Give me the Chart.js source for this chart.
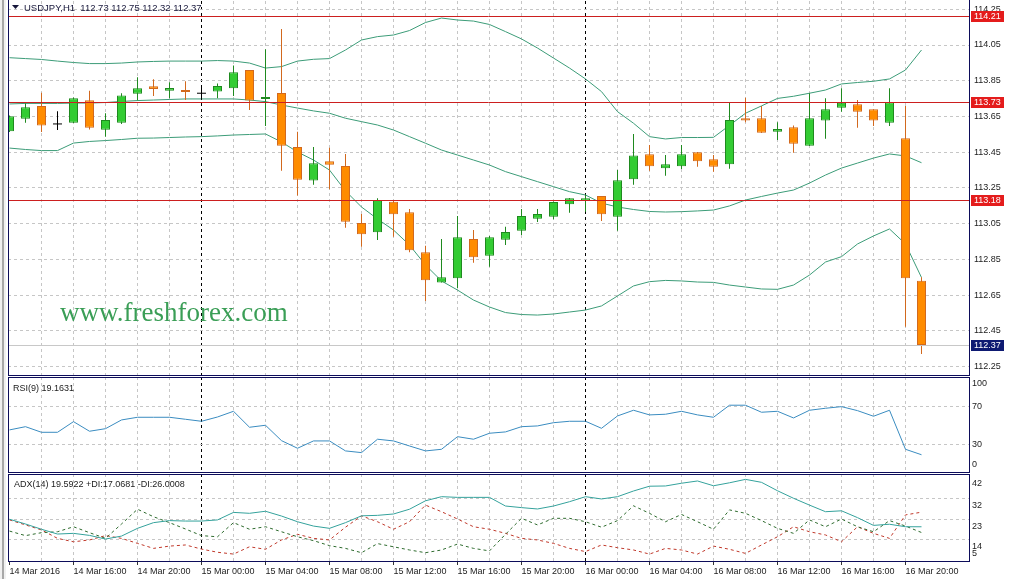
<!DOCTYPE html>
<html lang="en">
<head>
<meta charset="UTF-8">
<title>USDJPY H1</title>
<script src="https://cdn.jsdelivr.net/npm/chart.js@4.4.1/dist/chart.umd.min.js"></script>
<style>
  html, body { margin: 0; padding: 0; background: #fff; }
  #wrap { position: relative; width: 1011px; height: 579px; overflow: hidden; background: #fff; }
  #wrap canvas { position: absolute; left: 0; }
  #edge { position: absolute; left: 0; top: 0; width: 6px; height: 579px; background: #f0f0f0; }
  #edge i { position: absolute; left: 2px; top: 0; width: 2px; height: 579px; background: #a8a8a8; }
</style>
</head>
<body>
<div id="wrap">
  <div id="edge"><i></i></div>
  <canvas id="cMain" width="1011" height="376" style="top:0"></canvas>
  <canvas id="cRsi" width="1011" height="97" style="top:376px"></canvas>
  <canvas id="cAdx" width="1011" height="106" style="top:473px"></canvas>
</div>
<script>
// USDJPY H1, 14 Mar 12:00 .. 16 Mar 21:00, one bar per hour
const timeLabels = ['14 Mar 2016', '14 Mar 16:00', '14 Mar 20:00', '15 Mar 00:00', '15 Mar 04:00',
  '15 Mar 08:00', '15 Mar 12:00', '15 Mar 16:00', '15 Mar 20:00', '16 Mar 00:00', '16 Mar 04:00',
  '16 Mar 08:00', '16 Mar 12:00', '16 Mar 16:00', '16 Mar 20:00'];

const open = [113.567, 113.637, 113.709, 113.608, 113.615, 113.741, 113.575, 113.615, 113.777, 113.819,
  113.794, 113.798, 113.780, 113.789, 113.808, 113.910, 113.748, 113.781, 113.479, 113.291,
  113.399, 113.373, 113.053, 113.001, 113.173, 113.113, 112.889, 112.721, 112.744, 112.964,
  112.870, 112.960, 113.010, 113.077, 113.089, 113.158, 113.177, 113.205, 113.089, 113.298,
  113.438, 113.360, 113.371, 113.449, 113.410, 113.382, 113.640, 113.640, 113.565, 113.589,
  113.486, 113.628, 113.699, 113.718, 113.690, 113.615, 113.528, 112.73];
const high = [113.655, 113.724, 113.783, 113.679, 113.756, 113.794, 113.668, 113.780, 113.869, 113.858,
  113.842, 113.847, 113.815, 113.834, 113.935, 113.910, 114.026, 114.139, 113.565, 113.479,
  113.475, 113.440, 113.104, 113.192, 113.182, 113.132, 112.926, 112.964, 113.093, 113.014,
  112.981, 113.033, 113.132, 113.132, 113.174, 113.193, 113.210, 113.205, 113.350, 113.552,
  113.490, 113.434, 113.490, 113.451, 113.434, 113.729, 113.755, 113.709, 113.617, 113.600,
  113.780, 113.752, 113.808, 113.742, 113.690, 113.808, 113.709, 112.75];
const low = [113.563, 113.615, 113.563, 113.574, 113.613, 113.577, 113.537, 113.608, 113.739, 113.765,
  113.752, 113.742, 113.744, 113.752, 113.765, 113.686, 113.597, 113.346, 113.207, 113.268,
  113.242, 113.027, 112.921, 112.958, 112.977, 112.889, 112.617, 112.720, 112.688, 112.831,
  112.809, 112.930, 112.986, 113.059, 113.074, 113.111, 113.117, 113.065, 113.010, 113.268,
  113.346, 113.318, 113.356, 113.369, 113.341, 113.357, 113.617, 113.557, 113.518, 113.447,
  113.485, 113.525, 113.677, 113.587, 113.597, 113.597, 112.473, 112.32];
const close = [113.651, 113.701, 113.600, 113.608, 113.752, 113.587, 113.630, 113.768, 113.808, 113.804,
  113.809, 113.787, 113.780, 113.820, 113.898, 113.739, 113.759, 113.486, 113.296, 113.388,
  113.380, 113.061, 112.990, 113.182, 113.102, 112.901, 112.733, 112.749, 112.973, 112.861,
  112.973, 113.003, 113.093, 113.104, 113.171, 113.192, 113.192, 113.102, 113.293, 113.432,
  113.371, 113.382, 113.438, 113.399, 113.369, 113.630, 113.627, 113.559, 113.580, 113.497,
  113.640, 113.690, 113.727, 113.677, 113.627, 113.729, 112.744, 112.37];

const bbUpper = [113.979, 113.974, 113.969, 113.960, 113.952, 113.946, 113.946, 113.949, 113.955, 113.958,
  113.960, 113.960, 113.960, 113.963, 113.960, 113.949, 113.921, 113.929, 113.960, 113.970,
  113.974, 114.022, 114.078, 114.097, 114.106, 114.131, 114.176, 114.201, 114.190, 114.184,
  114.165, 114.125, 114.084, 114.033, 113.977, 113.921, 113.860, 113.789, 113.677, 113.612,
  113.537, 113.524, 113.532, 113.532, 113.533, 113.600, 113.668, 113.709, 113.751, 113.763,
  113.780, 113.798, 113.832, 113.840, 113.847, 113.860, 113.910, 114.022];
const bbMiddle = [113.720, 113.723, 113.723, 113.723, 113.725, 113.725, 113.728, 113.734, 113.739, 113.742,
  113.745, 113.748, 113.748, 113.748, 113.748, 113.742, 113.733, 113.714, 113.697, 113.681,
  113.668, 113.640, 113.621, 113.602, 113.574, 113.537, 113.500, 113.462, 113.434, 113.406,
  113.378, 113.341, 113.313, 113.285, 113.257, 113.229, 113.210, 113.165, 113.143, 113.129,
  113.118, 113.115, 113.117, 113.121, 113.126, 113.149, 113.182, 113.202, 113.221, 113.238,
  113.277, 113.322, 113.361, 113.389, 113.417, 113.440, 113.429, 113.391];
const bbLower = [113.473, 113.465, 113.459, 113.459, 113.501, 113.510, 113.515, 113.521, 113.528, 113.529,
  113.532, 113.535, 113.537, 113.541, 113.546, 113.549, 113.552, 113.507, 113.451, 113.406,
  113.350, 113.233, 113.143, 113.076, 113.014, 112.930, 112.818, 112.729, 112.678, 112.622,
  112.583, 112.552, 112.541, 112.538, 112.544, 112.555, 112.566, 112.589, 112.645, 112.701,
  112.725, 112.732, 112.729, 112.723, 112.721, 112.706, 112.695, 112.684, 112.682, 112.706,
  112.762, 112.835, 112.865, 112.936, 112.981, 113.020, 112.936, 112.748];

const rsi = [45.3, 48.7, 42.8, 42.8, 54.0, 43.9, 46.6, 55.8, 58.6, 58.6,
  58.6, 56.5, 54.4, 58.9, 64.9, 48.1, 50.2, 34.0, 26.0, 33.7,
  33.7, 23.2, 21.4, 35.5, 33.7, 28.4, 23.2, 24.9, 38.2, 35.5,
  41.8, 43.2, 48.7, 49.5, 52.9, 54.4, 54.4, 47.0, 60.0, 66.0,
  61.1, 61.8, 64.9, 61.1, 58.6, 71.3, 71.3, 63.9, 64.9, 57.9,
  66.0, 68.1, 69.8, 65.6, 59.7, 66.0, 24.9, 19.16];

const adx = [22.9, 20.8, 18.5, 16.4, 16.7, 15.8, 14.2, 15.5, 18.9, 21.4,
  22.3, 22.1, 22.1, 22.6, 25.9, 25.5, 26.4, 24.3, 21.8, 19.9,
  18.9, 21.4, 24.4, 24.6, 25.2, 27.3, 31.0, 32.8, 32.5, 32.5,
  32.5, 28.7, 28.0, 27.4, 28.7, 30.6, 32.8, 31.8, 32.8, 35.3,
  37.4, 37.5, 38.7, 39.7, 37.6, 38.9, 40.4, 39.1, 35.4, 32.1,
  29.1, 26.2, 26.6, 23.6, 20.2, 20.7, 19.6, 19.59];
const plusDi = [17.7, 15.7, 17.0, 17.4, 19.6, 17.0, 14.5, 20.8, 27.3, 24.0,
  21.4, 18.6, 15.7, 15.2, 21.4, 18.5, 19.6, 17.4, 15.2, 13.5,
  11.3, 10.1, 8.2, 12.2, 10.8, 9.4, 8.2, 9.4, 12.0, 10.1,
  9.0, 16.3, 23.3, 20.4, 23.3, 23.3, 21.8, 19.4, 22.3, 28.8,
  25.5, 21.8, 25.0, 21.8, 18.5, 27.0, 25.5, 22.3, 18.9, 16.7,
  22.6, 19.6, 23.0, 19.6, 17.4, 22.3, 19.9, 17.07];
const minusDi = [22.6, 20.4, 18.2, 14.5, 13.0, 13.8, 15.7, 14.5, 12.3, 10.1,
  11.1, 11.6, 9.8, 8.4, 7.6, 10.8, 9.7, 13.8, 16.3, 14.5,
  13.8, 19.4, 24.4, 21.8, 18.5, 21.8, 29.1, 26.2, 23.0, 19.6,
  18.5, 16.7, 14.5, 13.8, 12.3, 10.1, 8.7, 11.6, 10.4, 9.4,
  7.6, 10.1, 9.4, 7.6, 11.1, 9.7, 7.9, 11.6, 15.2, 19.6,
  17.4, 16.0, 13.0, 19.6, 16.7, 14.5, 24.8, 26.0];

const priceTicks = [114.25, 114.05, 113.85, 113.65, 113.45, 113.25, 113.05, 112.85, 112.65, 112.45, 112.25];
const levels = [114.21, 113.73, 113.18];
const bidPrice = 112.37;
const rsiLevels = [70, 30];
const rsiTicks = [100, 70, 30, 0];
const adxGrid = [32, 23, 14];
const adxTicks = [42, 32, 23, 14, 5];
const separators = [12, 36]; // 15 Mar 00:00, 16 Mar 00:00

// look
const FONT = "'Liberation Sans', Arial, sans-serif";
const TXT = '#1c1c1c';
const GRID = '#c6c6c6';
const FRAME = '#0c0c5a';
const BULL = '#33cc33', BULL_LINE = '#1f8a1f';
const BEAR = '#ff8c00', BEAR_LINE = '#d2691e';
const BB = '#3c9c78';
const X_MIN = -0.09375, X_MAX = 59.96875;
const P_MIN = 112.2024, P_MAX = 114.2964;

const idx = close.map((_, i) => i);
const isDoji = i => open[i] === close[i];
const isBull = i => close[i] > open[i];
const gridBars = idx.filter(i => i % 2 === 0);

function vColor(v) {
  if (separators.includes(v)) return '#000000';
  if (v === 0) return 'rgba(0,0,0,0)';
  return GRID;
}

function xAxis(labels) {
  return {
    type: 'linear', min: X_MIN, max: X_MAX, bounds: 'data', offset: false,
    afterBuildTicks: s => { s.ticks = gridBars.map(v => ({ value: v })); },
    afterFit: s => { s.height = labels ? 18 : 0; s.paddingLeft = 0; s.paddingRight = 0; },
    ticks: labels ? {
      autoSkip: false, maxRotation: 0, minRotation: 0, align: 'start', padding: 1,
      font: { size: 9, family: FONT }, color: TXT,
      callback: v => (v % 4 === 0 ? timeLabels[v / 4] : '')
    } : { display: false },
    grid: {
      offset: false, drawTicks: !!labels, tickLength: 4, tickBorderDash: [],
      color: c => vColor(c.tick ? c.tick.value : -1),
      tickColor: c => (c.tick && c.tick.value % 4 === 0 ? '#333333' : 'rgba(0,0,0,0)')
    },
    border: { display: false, dash: [3, 3] }
  };
}

function subY(min, max, gridVals) {
  return {
    type: 'linear', position: 'right', min: min, max: max, bounds: 'data',
    afterBuildTicks: s => { s.ticks = gridVals.map(v => ({ value: v })); },
    afterFit: s => { s.width = 42; s.paddingTop = 0; s.paddingBottom = 0; },
    ticks: { display: false },
    grid: { color: GRID, drawTicks: false },
    border: { display: false, dash: [3, 3] }
  };
}

const framePlugin = {
  id: 'frame',
  afterDraw(chart, args, o) {
    const { ctx, chartArea: a } = chart;
    ctx.save();
    ctx.strokeStyle = FRAME;
    ctx.lineWidth = 1;
    ctx.beginPath();
    const top = o.top ? a.top : 0;
    ctx.moveTo(a.left + 0.5, top); ctx.lineTo(a.left + 0.5, a.bottom + 1);
    ctx.moveTo(a.right + 0.5, top); ctx.lineTo(a.right + 0.5, a.bottom + 1);
    ctx.moveTo(a.left, a.bottom + 0.5); ctx.lineTo(a.right + 1, a.bottom + 0.5);
    if (o.top) { ctx.moveTo(a.left, a.top + 0.5); ctx.lineTo(a.right + 1, a.top + 0.5); }
    ctx.stroke();
    ctx.restore();
  }
};

const captionPlugin = {
  id: 'caption',
  afterDraw(chart, args, o) {
    const ctx = chart.ctx;
    ctx.save();
    ctx.font = o.size + 'px ' + FONT;
    ctx.fillStyle = o.color || TXT;
    ctx.textBaseline = 'alphabetic';
    ctx.textAlign = 'left';
    ctx.fillText(o.text, o.x, o.y);
    if (o.arrow) {
      ctx.beginPath();
      ctx.moveTo(12, 5); ctx.lineTo(19, 5); ctx.lineTo(15.5, 9); ctx.closePath();
      ctx.fill();
    }
    ctx.restore();
  }
};

const sideLabelPlugin = {
  id: 'sideLabels',
  afterDraw(chart, args, o) {
    const { ctx, chartArea: a, scales: { y } } = chart;
    ctx.save();
    ctx.font = '9px ' + FONT;
    ctx.fillStyle = TXT;
    ctx.textBaseline = 'middle';
    ctx.textAlign = 'left';
    o.values.forEach(v => {
      let py = y.getPixelForValue(v) + o.shift;
      py = Math.min(Math.max(py, a.top + 7), a.bottom - 7);
      ctx.fillText(String(v), a.right + 3, py);
    });
    ctx.restore();
  }
};

const priceMarks = {
  id: 'priceMarks',
  beforeDatasetsDraw(chart) {
    const ctx = chart.ctx;
    ctx.save();
    ctx.font = "27px 'Liberation Serif', 'Times New Roman', serif";
    ctx.fillStyle = '#3a9e56';
    ctx.textBaseline = 'alphabetic';
    ctx.fillText('www.freshforex.com', 60, 321);
    ctx.restore();
  },
  afterDatasetsDraw(chart) {
    const { ctx, chartArea: a, scales: { y } } = chart;
    ctx.save();
    ctx.lineWidth = 1;
    const hline = (v, color) => {
      const py = Math.round(y.getPixelForValue(v)) + 0.5;
      ctx.strokeStyle = color;
      ctx.beginPath(); ctx.moveTo(a.left, py); ctx.lineTo(a.right, py); ctx.stroke();
    };
    hline(bidPrice, '#c8c8c8');
    levels.forEach(v => hline(v, '#cc1f1f'));
    ctx.restore();
  },
  afterDraw(chart) {
    const { ctx, chartArea: a, scales: { y } } = chart;
    ctx.save();
    ctx.font = '9px ' + FONT;
    ctx.textBaseline = 'middle';
    ctx.textAlign = 'left';
    const box = (v, bg) => {
      const py = Math.round(y.getPixelForValue(v));
      ctx.fillStyle = bg;
      ctx.fillRect(a.right + 2, py - 5, 33, 11);
      ctx.fillStyle = '#ffffff';
      ctx.fillText(v.toFixed(2), a.right + 5, py + 0.5);
    };
    levels.forEach(v => box(v, '#e41c1c'));
    box(bidPrice, '#0e1a72');
    ctx.restore();
  }
};

const common = {
  responsive: false, animation: false, events: [],
  plugins: { legend: { display: false }, tooltip: { enabled: false } }
};

// main price window
new Chart(document.getElementById('cMain'), {
  type: 'line',
  data: {
    datasets: [
      {
        type: 'bar', order: 0, grouped: false, clip: 0, barThickness: 9, inflateAmount: 0,
        data: idx.filter(i => !isDoji(i)).map(i => ({ x: i, y: [open[i], close[i]] })),
        backgroundColor: c => (c.raw && isBull(c.raw.x) ? BULL : BEAR),
        borderColor: c => (c.raw && isBull(c.raw.x) ? BULL_LINE : BEAR_LINE),
        borderWidth: 1, borderSkipped: false
      },
      {
        type: 'scatter', order: 0, clip: 0, showLine: false,
        data: idx.filter(isDoji).map(i => ({ x: i, y: close[i] })),
        pointStyle: 'line', pointRadius: 4.5, borderColor: '#000000', borderWidth: 1
      },
      {
        type: 'bar', order: 1, grouped: false, clip: 0, barThickness: 1, inflateAmount: 0,
        data: idx.map(i => ({ x: i, y: [low[i], high[i]] })),
        backgroundColor: c => {
          if (!c.raw) return '#000';
          const i = c.raw.x;
          return isDoji(i) ? '#000000' : (isBull(i) ? BULL_LINE : BEAR_LINE);
        },
        borderWidth: 0
      },
      { type: 'line', order: 3, clip: 0, data: idx.map(i => ({ x: i, y: bbUpper[i] })), borderColor: BB, borderWidth: 1, pointRadius: 0, tension: 0 },
      { type: 'line', order: 3, clip: 0, data: idx.map(i => ({ x: i, y: bbMiddle[i] })), borderColor: BB, borderWidth: 1, pointRadius: 0, tension: 0 },
      { type: 'line', order: 3, clip: 0, data: idx.map(i => ({ x: i, y: bbLower[i] })), borderColor: BB, borderWidth: 1, pointRadius: 0, tension: 0 }
    ]
  },
  options: {
    ...common,
    layout: { autoPadding: false, padding: { left: 8, top: 1, right: 0, bottom: 1 } },
    plugins: {
      ...common.plugins,
      frame: { top: false },
      caption: { text: 'USDJPY,H1  112.73 112.75 112.32 112.37', x: 24, y: 11, size: 9.5, color: '#16163a', arrow: true }
    },
    scales: {
      x: xAxis(false),
      y: {
        type: 'linear', position: 'right', min: P_MIN, max: P_MAX, bounds: 'data',
        afterBuildTicks: s => { s.ticks = priceTicks.map(v => ({ value: v })); },
        afterFit: s => { s.width = 42; s.paddingTop = 0; s.paddingBottom = 0; },
        ticks: { autoSkip: false, padding: 5, font: { size: 9, family: FONT }, color: TXT, callback: v => v.toFixed(2) },
        grid: { color: GRID, drawTicks: false },
        border: { display: false, dash: [3, 3] }
      }
    }
  },
  plugins: [priceMarks, framePlugin, captionPlugin]
});

// RSI(9)
new Chart(document.getElementById('cRsi'), {
  type: 'line',
  data: {
    datasets: [{ data: idx.map(i => ({ x: i, y: rsi[i] })), borderColor: '#3a8cc0', borderWidth: 1, pointRadius: 0, tension: 0, clip: 0 }]
  },
  options: {
    ...common,
    layout: { autoPadding: false, padding: { left: 8, top: 1, right: 0, bottom: 1 } },
    plugins: {
      ...common.plugins,
      frame: { top: true },
      caption: { text: 'RSI(9) 19.1631', x: 13, y: 14.5, size: 9 },
      sideLabels: { values: rsiTicks, shift: 0 }
    },
    scales: { x: xAxis(false), y: subY(1, 101, rsiLevels) }
  },
  plugins: [framePlugin, captionPlugin, sideLabelPlugin]
});

// ADX(14)
new Chart(document.getElementById('cAdx'), {
  type: 'line',
  data: {
    datasets: [
      { data: idx.map(i => ({ x: i, y: adx[i] })), borderColor: '#34a29c', borderWidth: 1, pointRadius: 0, tension: 0, clip: 0 },
      { data: idx.map(i => ({ x: i, y: plusDi[i] })), borderColor: '#2e6b2e', borderWidth: 1, borderDash: [3, 3], pointRadius: 0, tension: 0, clip: 0 },
      { data: idx.map(i => ({ x: i, y: minusDi[i] })), borderColor: '#c0392b', borderWidth: 1, borderDash: [3, 3], pointRadius: 0, tension: 0, clip: 0 }
    ]
  },
  options: {
    ...common,
    layout: { autoPadding: false, padding: { left: 8, top: 1, right: 0, bottom: 0 } },
    plugins: {
      ...common.plugins,
      frame: { top: true },
      caption: { text: 'ADX(14) 19.5922 +DI:17.0681 -DI:26.0008', x: 14, y: 13.5, size: 9 },
      sideLabels: { values: adxTicks, shift: 7.5 }
    },
    scales: { x: xAxis(true), y: subY(4.56, 42.76, adxGrid) }
  },
  plugins: [framePlugin, captionPlugin, sideLabelPlugin]
});
</script>
</body>
</html>
